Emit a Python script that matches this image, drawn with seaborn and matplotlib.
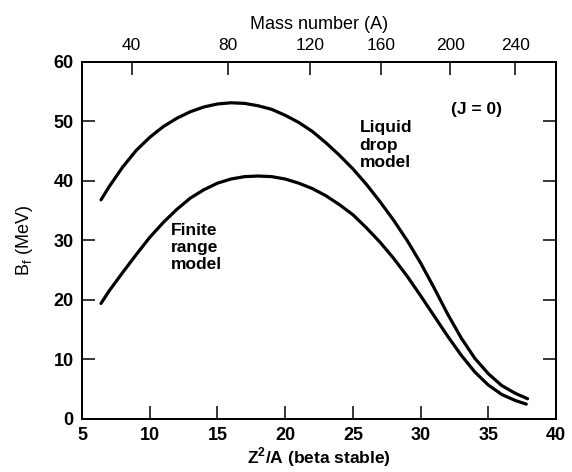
import matplotlib
matplotlib.use("Agg")
import matplotlib.pyplot as plt
import seaborn as sns
import pandas as pd

# Z^2/A positions
z2a = [6.4, 7, 8, 9, 10, 11, 12, 13, 14, 15, 16, 17, 18, 19, 20, 21, 22,
       23, 24, 25, 26, 27, 28, 29, 30, 31, 32, 33, 34, 35, 36, 37, 37.9]

# fission barrier B_f (MeV)
liquid_drop = [36.8, 39.0, 42.3, 45.1, 47.3, 49.1, 50.5, 51.6, 52.4, 52.9,
               53.1, 53.0, 52.6, 52.0, 51.0, 49.8, 48.3, 46.4, 44.3, 42.0,
               39.4, 36.5, 33.4, 30.0, 26.2, 22.0, 17.6, 13.6, 10.2, 7.6,
               5.6, 4.3, 3.4]
finite_range = [19.4, 21.5, 24.6, 27.6, 30.5, 33.0, 35.2, 37.1, 38.5, 39.6,
                40.3, 40.7, 40.8, 40.7, 40.3, 39.6, 38.7, 37.5, 36.0, 34.3,
                32.1, 29.7, 27.0, 24.0, 20.7, 17.3, 13.9, 10.7, 7.9, 5.7,
                4.1, 3.1, 2.5]

# top axis: mass number ticks and where they sit on the Z^2/A scale
mass_labels = [40, 80, 120, 160, 200, 240]
mass_pos = [8.67, 15.8, 21.84, 27.08, 32.18, 36.98]

bottom_ticks = [5, 10, 15, 20, 25, 30, 35, 40]
left_ticks = [0, 10, 20, 30, 40, 50, 60]

df = pd.concat([
    pd.DataFrame({"z2a": z2a, "bf": liquid_drop, "model": "Liquid drop"}),
    pd.DataFrame({"z2a": z2a[:-1] + [37.8], "bf": finite_range, "model": "Finite range"}),
])

sns.set_style("ticks")
plt.rcParams["font.family"] = ["Liberation Sans", "DejaVu Sans"]
plt.rcParams["mathtext.fontset"] = "custom"
plt.rcParams["mathtext.rm"] = "Liberation Sans"
plt.rcParams["mathtext.bf"] = "Liberation Sans:bold"
for k in ["text.color", "axes.labelcolor", "xtick.color", "ytick.color", "axes.edgecolor"]:
    plt.rcParams[k] = "black"

fig = plt.figure(figsize=(5.72, 4.72), dpi=100)
ax = fig.add_axes([0.1434, 0.1123, 0.8287, 0.757])

sns.lineplot(data=df, x="z2a", y="bf", hue="model", units="model",
             estimator=None, palette=["black", "black"], linewidth=2.3,
             legend=False, sort=True, ax=ax)

ax.set_xlim(5, 40)
ax.set_ylim(0, 60)
ax.set_xticks(bottom_ticks)
ax.set_yticks(left_ticks)
ax.set_xticklabels([str(t) for t in bottom_ticks], fontweight="bold", fontsize=13)
ax.set_yticklabels([str(t) for t in left_ticks], fontweight="bold", fontsize=13)
ax.tick_params(direction="in", length=9.5, width=1.1, right=True, top=False, pad=6)
for s in ax.spines.values():
    s.set_visible(True)
    s.set_linewidth(1.4)

ax.set_xlabel(r"Z$^\mathbf{2}$/A (beta stable)", fontsize=12.5, fontweight="bold",
              labelpad=1)
ax.set_ylabel(r"B$_\mathregular{f}$ (MeV)", fontsize=13)
ax.yaxis.set_label_coords(-0.1, 0.5)

top = ax.twiny()
top.set_xlim(5, 40)
top.set_xticks(mass_pos)
top.set_xticklabels([str(m) for m in mass_labels], fontsize=12.5)
top.tick_params(direction="in", length=9, width=1.1, pad=6)
top.set_xlabel("Mass number (A)", fontsize=13, labelpad=7)
for s in top.spines.values():
    s.set_linewidth(1.4)

ax.text(34.1, 51.9, "(J = 0)", fontsize=12.5, fontweight="bold",
        ha="center", va="center")
ax.text(25.5, 46.0, "Liquid\ndrop\nmodel", fontsize=12.5, fontweight="bold",
        ha="left", va="center", linespacing=1.2)
ax.text(11.55, 28.8, "Finite\nrange\nmodel", fontsize=12.5, fontweight="bold",
        ha="left", va="center", linespacing=1.2)

fig.savefig("out.png", dpi=100)
